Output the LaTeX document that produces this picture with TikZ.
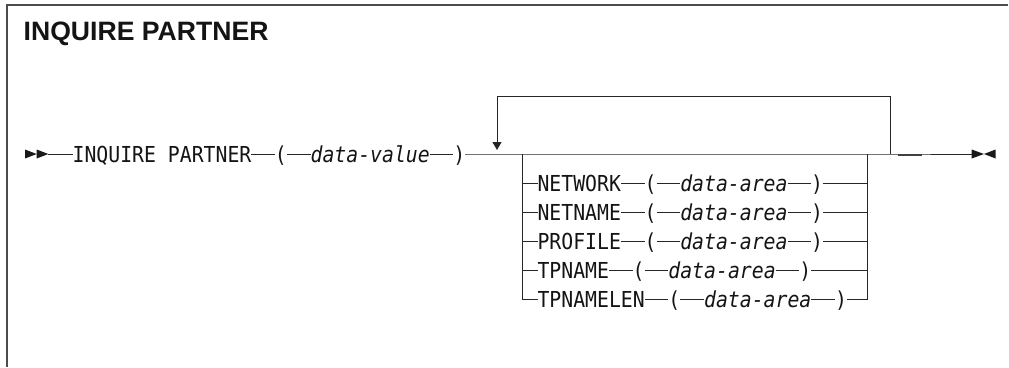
\documentclass[tikz,border=0pt]{standalone}
\usepackage{fontspec}
\usetikzlibrary{arrows.meta}
\newfontfamily\rrfont{DejaVu Sans Mono}[FakeStretch=0.9]
\newfontfamily\ttlfont{Liberation Sans}
\tikzset{
  rline/.style={line width=1pt, draw=black!85},
  frameline/.style={line width=1.6pt, draw=black!70},
  tok/.style={inner sep=0pt, outer sep=0pt, anchor=west, text height=16pt, text depth=0pt,
    font=\rrfont\fontsize{22}{24}\selectfont, text=black!92},
  vartok/.style={tok, font=\rrfont\itshape\fontsize{22}{24}\selectfont},
  ttl/.style={inner sep=0pt, anchor=base west, font=\ttlfont\bfseries\fontsize{26.6}{30}\selectfont, text=black!92},
  endtri/.style={fill=black!90},
  dashseg/.style={line width=1.8pt, draw=black!75}
}
\begin{document}
\begin{tikzpicture}[x=1pt,y=-1pt]
\useasboundingbox (0,0) rectangle (1009,367);
% frame
\draw[frameline] (7,367) -- (7,5) -- (1008,5);
\node[ttl] (title) at (23.5,40.5) {INQUIRE PARTNER};

% start mark
\fill[endtri] (25,149.5) -- (36.7,154) -- (25,158.5) -- cycle;
\fill[endtri] (36.7,149.5) -- (48.3,154) -- (36.7,158.5) -- cycle;
\coordinate (s) at (48.3,154);

% main line tokens
\node[tok] (cmd) at (72.6,154) {INQUIRE PARTNER};
\node[tok] (lp) at (274.9,154) {(};
\node[vartok] (dv) at (310.6,154) {data-value};
\node[tok] (rp) at (453.4,154) {)};
\coordinate (jr) at (890,154);
\coordinate (e) at (971.7,154);
\draw[rline] (s) -- (cmd) -- (lp) -- (dv) -- (rp) -- (jr) -- (e);

% repeat loop
\coordinate (lt) at (890,96);
\coordinate (ll) at (497,96);
\coordinate (la) at (497,150);
\draw[rline, -{Triangle[length=8pt,width=9pt]}] (jr) -- (lt) -- (ll) -- (la);

% short dash after loop
\coordinate (d1) at (898,154.6);
\coordinate (d2) at (922,154.6);
\draw[dashseg] (d1) -- (d2);

% end mark
\fill[endtri] (971.7,149.5) -- (984,154) -- (971.7,158.5) -- cycle;
\fill[endtri] (995.6,149.5) -- (984,154) -- (995.6,158.5) -- cycle;

% group rails
\coordinate (gL0) at (522,154);
\coordinate (gR0) at (867,154);
\coordinate (gL1) at (522,183.5);
\coordinate (gR1) at (867,183.5);
\coordinate (gL2) at (522,212.5);
\coordinate (gR2) at (867,212.5);
\coordinate (gL3) at (522,241.5);
\coordinate (gR3) at (867,241.5);
\coordinate (gL4) at (522,270.5);
\coordinate (gR4) at (867,270.5);
\coordinate (gL5) at (522,299.5);
\coordinate (gR5) at (867,299.5);

% row 1 NETWORK
\node[tok] (n1) at (537.5,183.5) {NETWORK};
\node[tok] (lp1) at (644.6,183.5) {(};
\node[vartok] (da1) at (680.3,183.5) {data-area};
\node[tok] (rp1) at (811.2,183.5) {)};
\draw[rline] (gL1) -- (n1) -- (lp1) -- (da1) -- (rp1) -- (gR1);

% row 2 NETNAME
\node[tok] (n2) at (537.5,212.5) {NETNAME};
\node[tok] (lp2) at (644.6,212.5) {(};
\node[vartok] (da2) at (680.3,212.5) {data-area};
\node[tok] (rp2) at (811.2,212.5) {)};
\draw[rline] (gL2) -- (n2) -- (lp2) -- (da2) -- (rp2) -- (gR2);

% row 3 PROFILE
\node[tok] (n3) at (537.5,241.5) {PROFILE};
\node[tok] (lp3) at (644.6,241.5) {(};
\node[vartok] (da3) at (680.3,241.5) {data-area};
\node[tok] (rp3) at (811.2,241.5) {)};
\draw[rline] (gL3) -- (n3) -- (lp3) -- (da3) -- (rp3) -- (gR3);

% row 4 TPNAME
\node[tok] (n4) at (537.5,270.5) {TPNAME};
\node[tok] (lp4) at (632.7,270.5) {(};
\node[vartok] (da4) at (668.4,270.5) {data-area};
\node[tok] (rp4) at (799.3,270.5) {)};
\draw[rline] (gL4) -- (n4) -- (lp4) -- (da4) -- (rp4) -- (gR4);

% row 5 TPNAMELEN
\node[tok] (n5) at (537.5,299.5) {TPNAMELEN};
\node[tok] (lp5) at (668.4,299.5) {(};
\node[vartok] (da5) at (704.1,299.5) {data-area};
\node[tok] (rp5) at (835.0,299.5) {)};
\draw[rline] (gL0) -- (gL5) -- (n5) -- (lp5) -- (da5) -- (rp5) -- (gR5) -- (gR0);
\end{tikzpicture}
\end{document}
